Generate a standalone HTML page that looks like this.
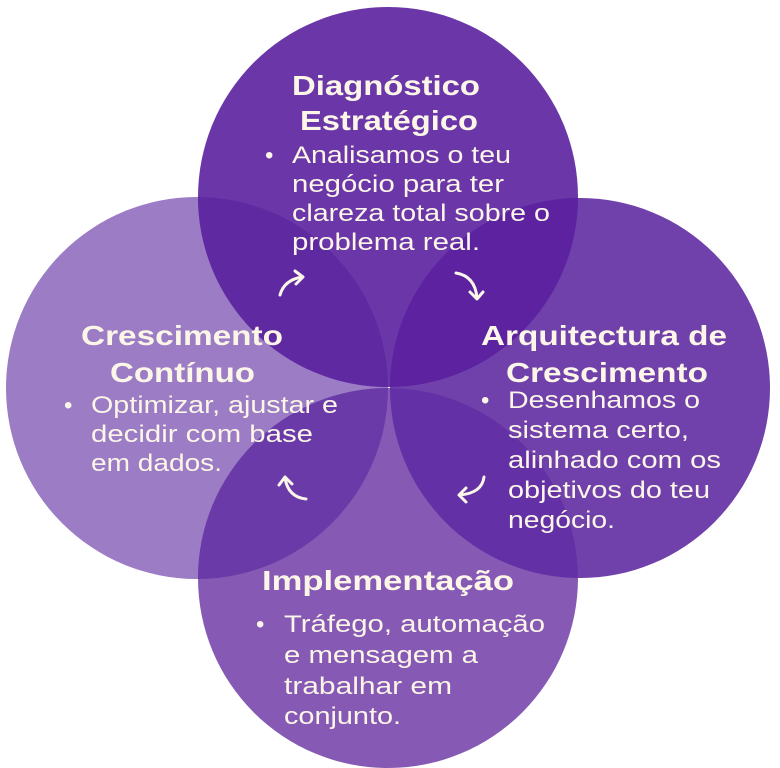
<!DOCTYPE html>
<html><head><meta charset="utf-8"><style>
html,body{margin:0;padding:0;background:#fff}
svg{display:block}
text{font-family:"Liberation Sans",sans-serif;fill:#fbf6e8}
.t{font-weight:bold;font-size:28px}
.b{font-size:24px}
</style></head><body>
<svg width="780" height="768" viewBox="0 0 780 768">
<defs>
<clipPath id="cT"><circle cx="388" cy="197" r="190"/></clipPath>
<clipPath id="cB"><circle cx="388" cy="578" r="190"/></clipPath>
</defs>
<circle cx="197" cy="388" r="191" fill="#9b7cc5"/>
<circle cx="580" cy="388" r="190" fill="#7040ab"/>
<circle cx="388" cy="578" r="190" fill="#8659b5"/>
<circle cx="388" cy="197" r="190" fill="#6b36a8"/>
<g clip-path="url(#cT)">
<circle cx="197" cy="388" r="191" fill="#5f29a1"/>
<circle cx="580" cy="388" r="190" fill="#5c22a0"/>
</g>
<g clip-path="url(#cB)">
<circle cx="197" cy="388" r="191" fill="#6a3aa8"/>
<circle cx="580" cy="388" r="190" fill="#6330a6"/>
</g>
<g fill="none" stroke="#fbf6e8" stroke-width="3" stroke-linecap="round" stroke-linejoin="round">
<path d="M280 295 Q284 280 302 277"/><path d="M295 271 L303 277 L296 284"/>
<path d="M456 273 Q475 276 477 298"/><path d="M470 292 L477 299 L483 292"/>
<path d="M484 477 Q482 493 460 495"/><path d="M466 488 L459 495 L466 502"/>
<path d="M306 499 Q288 497 285 478"/><path d="M279 485 L285 477 L292 484"/>
</g>
<g class="t" >
<text x="292" y="95" textLength="188" lengthAdjust="spacingAndGlyphs">Diagnóstico</text>
<text x="300" y="130" textLength="178" lengthAdjust="spacingAndGlyphs">Estratégico</text>
<text x="481" y="345" textLength="246" lengthAdjust="spacingAndGlyphs">Arquitectura de</text>
<text x="506" y="382" textLength="202" lengthAdjust="spacingAndGlyphs">Crescimento</text>
<text x="81" y="345" textLength="202" lengthAdjust="spacingAndGlyphs">Crescimento</text>
<text x="110" y="382" textLength="145" lengthAdjust="spacingAndGlyphs">Contínuo</text>
<text x="262" y="590" textLength="252" lengthAdjust="spacingAndGlyphs">Implementação</text>
</g>
<g class="b">
<text x="265" y="163">•</text>
<text x="292" y="163" textLength="219" lengthAdjust="spacingAndGlyphs">Analisamos o teu</text>
<text x="292" y="192" textLength="212" lengthAdjust="spacingAndGlyphs">negócio para ter</text>
<text x="292" y="221" textLength="258" lengthAdjust="spacingAndGlyphs">clareza total sobre o</text>
<text x="292" y="250" textLength="188" lengthAdjust="spacingAndGlyphs">problema real.</text>

<text x="481" y="408">•</text>
<text x="508" y="408" textLength="192" lengthAdjust="spacingAndGlyphs">Desenhamos o</text>
<text x="508" y="438" textLength="181" lengthAdjust="spacingAndGlyphs">sistema certo,</text>
<text x="508" y="468" textLength="213" lengthAdjust="spacingAndGlyphs">alinhado com os</text>
<text x="508" y="498" textLength="202" lengthAdjust="spacingAndGlyphs">objetivos do teu</text>
<text x="508" y="528" textLength="107" lengthAdjust="spacingAndGlyphs">negócio.</text>

<text x="64" y="413">•</text>
<text x="91" y="413" textLength="247" lengthAdjust="spacingAndGlyphs">Optimizar, ajustar e</text>
<text x="91" y="442" textLength="222" lengthAdjust="spacingAndGlyphs">decidir com base</text>
<text x="91" y="471" textLength="131" lengthAdjust="spacingAndGlyphs">em dados.</text>

<text x="256" y="632">•</text>
<text x="284" y="632" textLength="261" lengthAdjust="spacingAndGlyphs">Tráfego, automação</text>
<text x="284" y="663" textLength="194" lengthAdjust="spacingAndGlyphs">e mensagem a</text>
<text x="284" y="694" textLength="168" lengthAdjust="spacingAndGlyphs">trabalhar em</text>
<text x="284" y="724" textLength="117" lengthAdjust="spacingAndGlyphs">conjunto.</text>
</g>
</svg>
</body></html>
